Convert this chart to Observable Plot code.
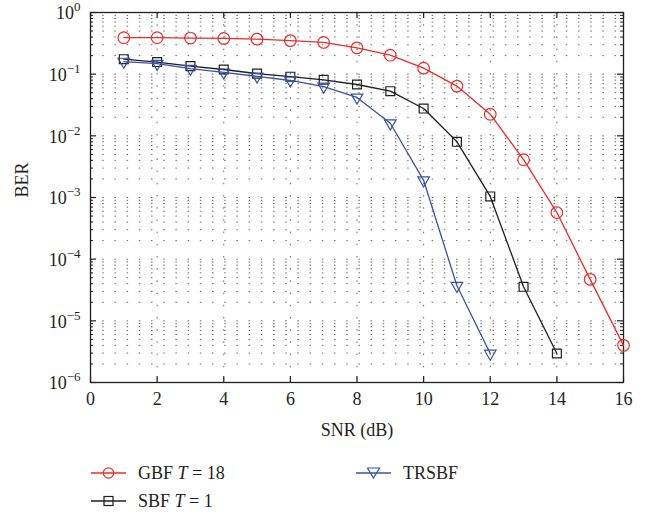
<!DOCTYPE html>
<html><head><meta charset="utf-8">
<script src="https://cdn.jsdelivr.net/npm/d3@7"></script>
<script src="https://cdn.jsdelivr.net/npm/@observablehq/plot@0.6"></script>
<style>
body{margin:0;background:#fff;}
#wrap{position:relative;width:649px;height:512px;font-family:"Liberation Serif","Times New Roman",serif;color:#231f20;overflow:hidden;}
.leg{position:absolute;height:22px;display:flex;align-items:center;font-size:18px;white-space:nowrap;}
.leg svg{margin-right:12px;}
</style></head><body><div id="wrap"></div>
<script>
// ---- data ----
const snr = [1,2,3,4,5,6,7,8,9,10,11,12,13,14,15,16];
const gbf = [0.39,0.39,0.385,0.38,0.37,0.35,0.327,0.267,0.203,0.125,0.064,0.0224,0.0041,5.7e-4,4.7e-5,4.0e-6];
const sbf = [0.175,0.157,0.135,0.119,0.102,0.091,0.081,0.068,0.053,0.0277,0.008,0.00104,3.56e-5,2.95e-6];
const trsbf = [0.16,0.148,0.123,0.107,0.092,0.079,0.063,0.042,0.016,0.0019,3.7e-5,2.95e-6];
const seriesNames = ["GBF T = 18","SBF T = 1","TRSBF"];
const seriesColors = ["#ee2b2b","#1e1e1e","#3a52a3"];
const xTicks = [0,2,4,6,8,10,12,14,16];
const yExponents = [-6,-5,-4,-3,-2,-1,0];
const yMajor = yExponents.map(e => Math.pow(10, e));
const yMinor = [];
for (const e of yExponents.slice(0, -1)) for (let m = 2; m <= 9; m++) yMinor.push(m * Math.pow(10, e));

const toRows = (vals, name) => vals.map((v, i) => ({snr: snr[i], ber: v, series: name}));
const rowsG = toRows(gbf, seriesNames[0]);
const rowsS = toRows(sbf, seriesNames[1]);
const rowsT = toRows(trsbf, seriesNames[2]);

const W = 649, H = 450, mL = 90, mR = 26, mT = 12, mB = 68;
const pw = W - mL - mR, ph = H - mT - mB;
const ink = "#231f20";
const gridC = "#666";
const dash = "1.5,10.7";
const FONT = '"Liberation Serif","Times New Roman",serif';

const plot = Plot.plot({
  width: W, height: H,
  marginLeft: mL, marginRight: mR, marginTop: mT, marginBottom: mB,
  style: {fontFamily: FONT, fontSize: "18px", color: ink, background: "#fff"},
  x: {domain: [0, 16], axis: null},
  y: {type: "log", domain: [1e-6, 1], axis: null},
  marks: [
    Plot.ruleY(yMinor.concat(yMajor.slice(1, -1)), {y: d => d, stroke: gridC, strokeDasharray: dash, strokeWidth: 1}),
    Plot.ruleX(xTicks.slice(1, -1), {x: d => d, stroke: gridC, strokeDasharray: dash, strokeWidth: 1}),
    Plot.tickX(xTicks, {x: d => d, insetTop: ph - 6, stroke: ink, strokeWidth: 1.2}),
    Plot.tickX(xTicks, {x: d => d, insetBottom: ph - 6, stroke: ink, strokeWidth: 1.2}),
    Plot.tickY(yMajor, {y: d => d, insetRight: pw - 6, stroke: ink, strokeWidth: 1.2}),
    Plot.tickY(yMajor, {y: d => d, insetLeft: pw - 6, stroke: ink, strokeWidth: 1.2}),
    Plot.tickY(yMinor, {y: d => d, insetRight: pw - 3, stroke: ink, strokeWidth: 1}),
    Plot.tickY(yMinor, {y: d => d, insetLeft: pw - 3, stroke: ink, strokeWidth: 1}),
    Plot.frame({stroke: ink, strokeWidth: 1.3}),
    Plot.line(rowsG, {x: "snr", y: "ber", stroke: seriesColors[0], strokeWidth: 1.3}),
    Plot.dot(rowsG, {x: "snr", y: "ber", stroke: seriesColors[0], fill: "none", r: 5.8, strokeWidth: 1.2}),
    Plot.line(rowsS, {x: "snr", y: "ber", stroke: seriesColors[1], strokeWidth: 1.3}),
    Plot.dot(rowsS, {x: "snr", y: "ber", stroke: seriesColors[1], fill: "none", symbol: "square", r: 5, strokeWidth: 1.2}),
    Plot.line(rowsT, {x: "snr", y: "ber", stroke: seriesColors[2], strokeWidth: 1.3}),
    Plot.dot(rowsT, {x: "snr", y: "ber", stroke: seriesColors[2], fill: "none", symbol: "triangle", rotate: 180, r: 4.3, strokeWidth: 1.2}),
    Plot.text(xTicks, {x: d => d, frameAnchor: "bottom", dy: 22, text: d => String(d), fill: ink, fontSize: 18}),
    Plot.text(yMajor, {y: d => d, frameAnchor: "left", dx: -10, dy: 1, textAnchor: "end", fill: ink, fontSize: 18,
      text: d => "10^" + String(Math.round(Math.log10(d))).replace("-", "\u2212")}),
    Plot.text(["SNR (dB)"], {frameAnchor: "bottom", dy: 53, fill: ink, fontSize: 18}),
    Plot.text(["BER"], {frameAnchor: "left", dx: -68, rotate: -90, fill: ink, fontSize: 18})
  ]
});

const ns = "http://www.w3.org/2000/svg";
plot.querySelectorAll("text").forEach(t => {
  if (!t.textContent.includes("^")) return;
  const [b, e] = t.textContent.split("^");
  t.textContent = "";
  const t1 = document.createElementNS(ns, "tspan"); t1.textContent = b;
  const t2 = document.createElementNS(ns, "tspan"); t2.textContent = e;
  t2.setAttribute("dy", "-8"); t2.setAttribute("font-size", "13");
  t.appendChild(t1); t.appendChild(t2);
});

const wrap = document.getElementById("wrap");
wrap.appendChild(plot);

function legendItem(i, left, top, symbolSvg, html) {
  const d = document.createElement("div");
  d.className = "leg";
  d.style.left = left + "px"; d.style.top = (top - 11) + "px";
  d.innerHTML = `<svg width="35" height="22">` +
    `<line x1="0" y1="11" x2="35" y2="11" stroke="${seriesColors[i]}" stroke-width="1.3"/>` + symbolSvg + `</svg>` + html;
  wrap.appendChild(d);
}
const c = seriesColors;
legendItem(0, 91, 473, `<circle cx="17.5" cy="11" r="5.2" fill="none" stroke="${c[0]}" stroke-width="1.2"/>`, "GBF&nbsp;<i>T</i>&nbsp;=&nbsp;18");
legendItem(1, 91, 501, `<rect x="13" y="6.5" width="9" height="9" fill="none" stroke="${c[1]}" stroke-width="1.2"/>`, "SBF&nbsp;<i>T</i>&nbsp;=&nbsp;1");
legendItem(2, 356, 473, `<path d="M11.5,6 L23.5,6 L17.5,16 Z" fill="none" stroke="${c[2]}" stroke-width="1.2"/>`, "TRSBF");
</script></body></html>
